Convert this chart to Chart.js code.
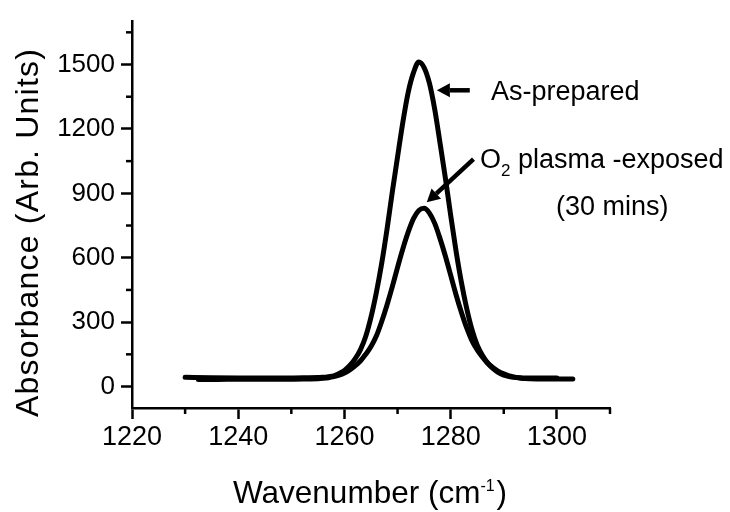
<!DOCTYPE html>
<html>
<head>
<meta charset="utf-8">
<script src="https://cdn.jsdelivr.net/npm/chart.js@4/dist/chart.umd.min.js"></script>
<style>
  html, body { margin: 0; padding: 0; background: #fff; }
  #wrap { width: 730px; height: 512px; position: relative; }
</style>
</head>
<body>
<div id="wrap"><canvas id="irChart"></canvas></div>
<script>
// FTIR absorbance
const asPreparedWavenumber = [1230, 1235, 1240, 1245, 1250, 1253, 1255, 1256, 1257, 1258, 1259, 1260,
  1261, 1262, 1263, 1264, 1265, 1266, 1267, 1268, 1269, 1270, 1271, 1272, 1273, 1274, 1275, 1276,
  1277, 1278, 1279, 1280, 1281, 1282, 1283, 1284, 1285, 1286, 1287, 1288, 1289, 1290, 1291, 1292,
  1293, 1294, 1297, 1300];
const asPreparedAbsorbance = [43, 41, 40, 40, 40, 41, 42, 43, 46, 50, 61, 75,
  98, 129, 171, 233, 323, 437, 572, 730, 904, 1070, 1232, 1370, 1462, 1512, 1486, 1413,
  1291, 1134, 972, 798, 633, 488, 366, 266, 193, 145, 109, 83, 65, 53, 47, 43,
  41, 40, 40, 40];

const plasmaWavenumber = [1232.5, 1236, 1240, 1245, 1250, 1253, 1255, 1256, 1257, 1258, 1259, 1260,
  1261, 1262, 1263, 1264, 1265, 1266, 1267, 1268, 1269, 1270, 1271, 1272, 1273, 1274, 1275, 1276,
  1277, 1278, 1279, 1280, 1281, 1282, 1283, 1284, 1285, 1286, 1287, 1288, 1289, 1290, 1291, 1292,
  1293, 1294, 1295, 1297, 1300, 1303];
const plasmaAbsorbance = [33, 33, 34, 34, 34, 35, 36, 38, 41, 46, 53, 63,
  77, 96, 119, 150, 186, 235, 302, 379, 464, 555, 642, 719, 782, 820, 830, 808,
  760, 689, 608, 519, 429, 347, 274, 214, 171, 137, 108, 88, 71, 59, 49, 44,
  40, 37, 36, 35, 35, 35];

const xMajorTicks = [1220, 1240, 1260, 1280, 1300];
const xMinorTicks = [1230, 1250, 1270, 1290, 1310];
const yMajorTicks = [0, 300, 600, 900, 1200, 1500];
const yMinorTicks = [150, 450, 750, 1050, 1350, 1650];

const FONT = '"Liberation Sans", Arial, sans-serif';

const toPoints = (xs, ys) => xs.map((x, i) => ({ x, y: ys[i] }));

// minor ticks + arrows + rich text (sub/superscripts)
const decorations = {
  id: 'decorations',
  afterDraw(chart) {
    const { ctx, chartArea, scales: { x, y } } = chart;
    ctx.save();
    ctx.strokeStyle = '#000';
    ctx.fillStyle = '#000';
    ctx.lineWidth = 2.5;

    xMinorTicks.forEach(v => {
      const px = x.getPixelForValue(v);
      ctx.beginPath();
      ctx.moveTo(px, chartArea.bottom);
      ctx.lineTo(px, chartArea.bottom + 6);
      ctx.stroke();
    });
    yMinorTicks.forEach(v => {
      const py = y.getPixelForValue(v);
      ctx.beginPath();
      ctx.moveTo(chartArea.left - 6, py);
      ctx.lineTo(chartArea.left, py);
      ctx.stroke();
    });

    // arrows, given in data units
    const arrow = (x0, y0, x1, y1) => {
      const ax = x.getPixelForValue(x0), ay = y.getPixelForValue(y0);
      const bx = x.getPixelForValue(x1), by = y.getPixelForValue(y1);
      const ang = Math.atan2(by - ay, bx - ax);
      const head = 13, half = 7;
      const hx = bx - head * Math.cos(ang), hy = by - head * Math.sin(ang);
      ctx.lineWidth = 4.5;
      ctx.lineCap = 'butt';
      ctx.beginPath();
      ctx.moveTo(ax, ay);
      ctx.lineTo(hx, hy);
      ctx.stroke();
      ctx.beginPath();
      ctx.moveTo(bx, by);
      ctx.lineTo(hx + half * Math.sin(ang), hy - half * Math.cos(ang));
      ctx.lineTo(hx - half * Math.sin(ang), hy + half * Math.cos(ang));
      ctx.closePath();
      ctx.fill();
    };
    arrow(1283.6, 1380, 1277.4, 1380);
    arrow(1284.3, 1059, 1275.5, 858);

    ctx.textBaseline = 'alphabetic';
    ctx.textAlign = 'left';

    ctx.font = '27px ' + FONT;
    ctx.fillText('As-prepared', 491, 100);

    let cx = 480;
    ctx.fillText('O', cx, 168);
    cx += ctx.measureText('O').width;
    ctx.font = '17px ' + FONT;
    ctx.fillText('2', cx, 176);
    cx += ctx.measureText('2').width;
    ctx.font = '27px ' + FONT;
    ctx.fillText(' plasma -exposed', cx, 168);
    ctx.fillText('(30 mins)', 556, 215);

    // x title with superscript
    ctx.font = '31.5px ' + FONT;
    cx = 233;
    ctx.fillText('Wavenumber (cm', cx, 503);
    cx += ctx.measureText('Wavenumber (cm').width;
    ctx.font = '16px ' + FONT;
    ctx.fillText('-1', cx, 491);
    cx += ctx.measureText('-1').width + 2;
    ctx.font = '31.5px ' + FONT;
    ctx.fillText(')', cx, 503);

    // y title, rotated
    ctx.translate(38, 417);
    ctx.rotate(-Math.PI / 2);
    ctx.font = '32px ' + FONT;
    ctx.letterSpacing = '1.2px';
    ctx.fillText('Absorbance (Arb. Units)', 0, 0);
    ctx.restore();
  }
};

const lineStyle = {
  borderColor: '#000',
  borderWidth: 5,
  pointRadius: 0,
  fill: false,
  cubicInterpolationMode: 'monotone',
  borderCapStyle: 'round',
  borderJoinStyle: 'round',
};

new Chart(document.getElementById('irChart'), {
  type: 'line',
  data: {
    datasets: [
      { label: 'As-prepared', data: toPoints(asPreparedWavenumber, asPreparedAbsorbance), ...lineStyle },
      { label: 'O2 plasma -exposed (30 mins)', data: toPoints(plasmaWavenumber, plasmaAbsorbance), ...lineStyle },
    ],
  },
  options: {
    responsive: true,
    maintainAspectRatio: false,
    animation: false,
    events: [],
    layout: { padding: { top: 14, right: 120, left: 0, bottom: 0 } },
    plugins: { legend: { display: false }, tooltip: { enabled: false } },
    scales: {
      x: {
        type: 'linear',
        min: 1220,
        max: 1310,
        afterBuildTicks: s => { s.ticks = xMajorTicks.map(v => ({ value: v })); },
        afterFit: s => { s.height = 104; },
        ticks: { color: '#000', font: { family: FONT, size: 27 }, padding: 2, maxRotation: 0, callback: v => String(v) },
        grid: { drawOnChartArea: false, tickLength: 11, tickWidth: 2.5, tickColor: '#000' },
        border: { display: true, width: 2.5, color: '#000' },
      },
      y: {
        type: 'linear',
        min: -100,
        max: 1700,
        afterBuildTicks: s => { s.ticks = yMajorTicks.map(v => ({ value: v })); },
        afterFit: s => { s.width = 132; },
        ticks: { color: '#000', font: { family: FONT, size: 26 }, padding: 6, callback: v => String(v) },
        grid: { drawOnChartArea: false, tickLength: 11, tickWidth: 2.5, tickColor: '#000' },
        border: { display: true, width: 2.5, color: '#000' },
      },
    },
  },
  plugins: [decorations],
});
</script>
</body>
</html>
